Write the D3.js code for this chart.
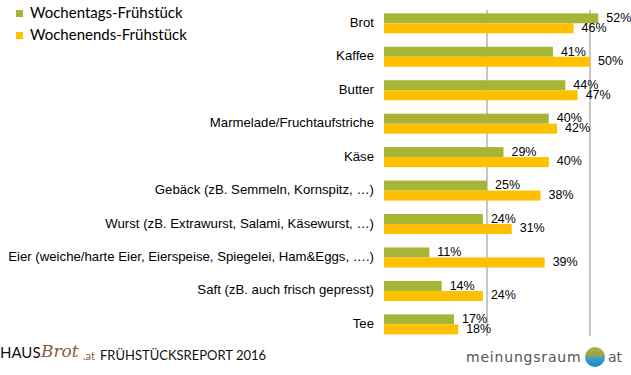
<!DOCTYPE html>
<html>
<head>
<meta charset="utf-8">
<script src="https://cdn.jsdelivr.net/npm/d3@7"></script>
<style>
  body { margin: 0; background: #fff; }
  svg { display: block; }
</style>
</head>
<body>
<div id="chart"></div>
<script>
const categories = [
    "Brot",
    "Kaffee",
    "Butter",
    "Marmelade/Fruchtaufstriche",
    "Käse",
    "Gebäck (zB. Semmeln, Kornspitz, …)",
    "Wurst (zB. Extrawurst, Salami, Käsewurst, …)",
    "Eier (weiche/harte Eier, Eierspeise, Spiegelei, Ham&Eggs, ….)",
    "Saft (zB. auch frisch gepresst)",
    "Tee"
];
const series = ["Wochentags-Frühstück", "Wochenends-Frühstück"];
const weekday = [52, 41, 44, 40, 29, 25, 24, 11, 14, 17];
const weekend = [46, 50, 47, 42, 40, 38, 31, 39, 24, 18];
const gridTicks = [25, 50];

const width = 631,
      height = 375,
      margin = ({ top: 6.6, bottom: 341.1, left: 384 });

const colors = ["#a6b535", "#ffc000"];

const data = categories.map((c, i) => ({ cat: c, values: [weekday[i], weekend[i]] }));

let svg = d3.select("#chart")
    .append("svg")
    .attr("width", width)
    .attr("height", height);

let x = d3.scaleLinear()
    .domain([0, 50])
    .range([margin.left, 590]);

let y = d3.scaleBand()
    .domain(categories)
    .range([margin.top, margin.bottom])
    .padding(0);

let y1 = d3.scaleBand()
    .domain(series)
    .range([0, 20]);

// gridlines
svg.append("g")
    .selectAll("line")
    .data(gridTicks)
    .join("line")
    .attr("x1", d => x(d))
    .attr("x2", d => x(d))
    .attr("y1", 10)
    .attr("y2", 336)
    .attr("stroke", "#b3b3b3")
    .attr("stroke-width", 1.5);

let group = svg.selectAll(".cat")
    .data(data)
    .join("g")
    .attr("class", "cat")
    .attr("transform", d => `translate(0,${y(d.cat) + (y.bandwidth() - 20) / 2})`);

group.selectAll("rect")
    .data(d => d.values.map((v, i) => ({ key: series[i], v: v, i: i })))
    .join("rect")
    .attr("x", x(0))
    .attr("y", d => y1(d.key))
    .attr("width", d => x(d.v) - x(0))
    .attr("height", y1.bandwidth())
    .attr("fill", d => colors[d.i]);

group.selectAll(".val")
    .data(d => d.values.map((v, i) => ({ key: series[i], v: v, i: i })))
    .join("text")
    .attr("class", "val")
    .text(d => d.v + "%")
    .attr("x", d => x(d.v) + 8)
    .attr("y", d => y1(d.key) + y1.bandwidth() / 2 + (d.i === 0 ? 0.5 : 0))
    .attr("dominant-baseline", "middle")
    .style("font-family", "Liberation Sans, Arial, sans-serif")
    .style("font-size", "12.5px")
    .style("fill", "#000");

// category labels
svg.append("g")
    .selectAll("text")
    .data(categories)
    .join("text")
    .text(d => d)
    .attr("x", 374)
    .attr("y", d => y(d) + y.bandwidth() / 2)
    .attr("text-anchor", "end")
    .attr("dominant-baseline", "middle")
    .style("font-family", "Liberation Sans, Arial, sans-serif")
    .style("font-size", "13.2px")
    .style("fill", "#000");

// legend
let legend = svg.append("g")
    .selectAll("g")
    .data(series)
    .join("g")
    .attr("transform", (d, i) => `translate(16,${14 + i * 22})`);

legend.append("rect")
    .attr("x", 0)
    .attr("y", -4)
    .attr("width", 7)
    .attr("height", 7)
    .attr("fill", (d, i) => colors[i]);

legend.append("text")
    .text(d => d)
    .attr("x", 14)
    .attr("y", 0)
    .attr("dominant-baseline", "middle")
    .style("font-family", "Lato, sans-serif")
    .style("font-size", "15px")
    .style("fill", "#000");

// footer left
let foot = svg.append("g");
foot.append("text")
    .text("HAUS")
    .attr("x", 0)
    .attr("y", 358)
    .style("font-family", "Lato, sans-serif")
    .style("font-size", "15px")
    .style("fill", "#111");
foot.append("text")
    .text("Brot")
    .attr("x", 41)
    .attr("y", 357)
    .style("font-family", "DejaVu Serif, serif")
    .style("font-style", "italic")
    .style("font-size", "17px")
    .style("fill", "#8b5b3e");
foot.append("text")
    .text(".at")
    .attr("x", 83)
    .attr("y", 360)
    .style("font-family", "Lato, sans-serif")
    .style("font-size", "11px")
    .style("fill", "#8b5b3e");
foot.append("text")
    .text("FRÜHSTÜCKSREPORT 2016")
    .attr("x", 100)
    .attr("y", 360)
    .style("font-family", "Lato, sans-serif")
    .style("font-size", "13px")
    .style("fill", "#111");

// footer right
let defs = svg.append("defs");
let grad = defs.append("linearGradient")
    .attr("id", "globe")
    .attr("x1", 0).attr("y1", 0).attr("x2", 0).attr("y2", 1);
grad.append("stop").attr("offset", "0%").attr("stop-color", "#b7b04a");
grad.append("stop").attr("offset", "45%").attr("stop-color", "#8fa44a");
grad.append("stop").attr("offset", "55%").attr("stop-color", "#3aa0d0");
grad.append("stop").attr("offset", "100%").attr("stop-color", "#1a86c0");

foot.append("text")
    .text("meinungsraum")
    .attr("x", 466)
    .attr("y", 362)
    .style("font-family", "DejaVu Sans, sans-serif")
    .style("font-size", "14px")
    .style("letter-spacing", "0.8px")
    .style("fill", "#555");
foot.append("circle")
    .attr("cx", 595)
    .attr("cy", 357)
    .attr("r", 10)
    .attr("fill", "url(#globe)");
foot.append("text")
    .text("at")
    .attr("x", 608)
    .attr("y", 362)
    .style("font-family", "DejaVu Sans, sans-serif")
    .style("font-size", "14px")
    .style("fill", "#555");
</script>
</body>
</html>
